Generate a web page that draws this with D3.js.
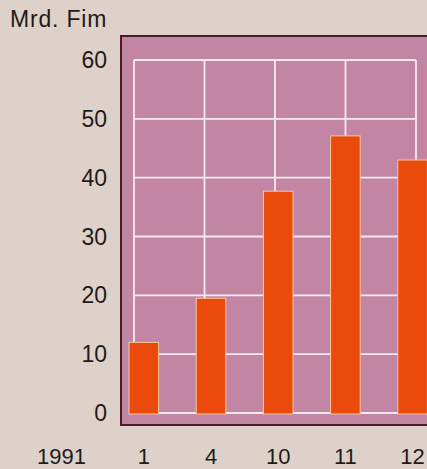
<!DOCTYPE html>
<html>
<head>
<meta charset="utf-8">
<script src="https://cdn.jsdelivr.net/npm/d3@7"></script>
<style>
  html, body { margin: 0; padding: 0; background: #ddd1c9; }
  svg { display: block; }
  text { font-family: "Liberation Sans", Arial, Helvetica, sans-serif; fill: #1f1b19; }
</style>
</head>
<body>
<svg id="chart" width="427" height="469"></svg>
<script>
// Monthly values, billions of Finnish marks
const months = ["1", "4", "10", "11", "12"];
const values = [12, 19.5, 37.7, 47.1, 43];
const yTicks = [0, 10, 20, 30, 40, 50, 60];
const yearLabel = "1991";
const unitLabel = "Mrd. Fim";

const svg = d3.select("#chart");

const y = d3.scaleLinear().domain([0, 60]).range([413, 60]);
const x = d3.scaleBand().domain(months)
  .range([110.2, 446.2])
  .paddingInner(0.56)
  .paddingOuter(0.28);

// grid columns
const gx = d3.scaleLinear().domain([0, 4]).range([134, 416]);

// panel
svg.append("rect")
  .attr("x", 121).attr("y", 36)
  .attr("width", 330).attr("height", 389)
  .attr("fill", "#c286a4")
  .attr("stroke", "#4e1a26")
  .attr("stroke-width", 2);

const grid = svg.append("g").attr("stroke", "#f6eaf0").attr("stroke-width", 1.8);
grid.selectAll("line.h").data(yTicks).join("line")
  .attr("class", "h")
  .attr("x1", gx(0)).attr("x2", gx(4))
  .attr("y1", d => y(d)).attr("y2", d => y(d));
grid.selectAll("line.v").data(d3.range(5)).join("line")
  .attr("class", "v")
  .attr("x1", d => gx(d)).attr("x2", d => gx(d))
  .attr("y1", y(60)).attr("y2", y(0));

// bars
svg.append("g").selectAll("rect").data(values).join("rect")
  .attr("x", (d, i) => x(months[i]))
  .attr("width", x.bandwidth())
  .attr("y", d => y(d))
  .attr("height", d => y(0) - y(d) + 1)
  .attr("fill", "#ea4a0c")
  .attr("stroke", "#f7c79a")
  .attr("stroke-width", 1);

// y axis labels
svg.append("g").selectAll("text").data(yTicks).join("text")
  .attr("x", 107)
  .attr("y", d => y(d) + 8)
  .attr("text-anchor", "end")
  .attr("font-size", 23)
  .text(d => d);

// month labels
svg.append("g").selectAll("text").data(months).join("text")
  .attr("x", d => x(d) + x.bandwidth() / 2)
  .attr("y", 464)
  .attr("text-anchor", "middle")
  .attr("font-size", 22)
  .text(d => d);

svg.append("text")
  .attr("x", 37).attr("y", 464)
  .attr("font-size", 22)
  .text(yearLabel);

svg.append("text")
  .attr("x", 10).attr("y", 27)
  .attr("font-size", 23)
  .attr("letter-spacing", 0.8)
  .text(unitLabel);
</script>
</body>
</html>
